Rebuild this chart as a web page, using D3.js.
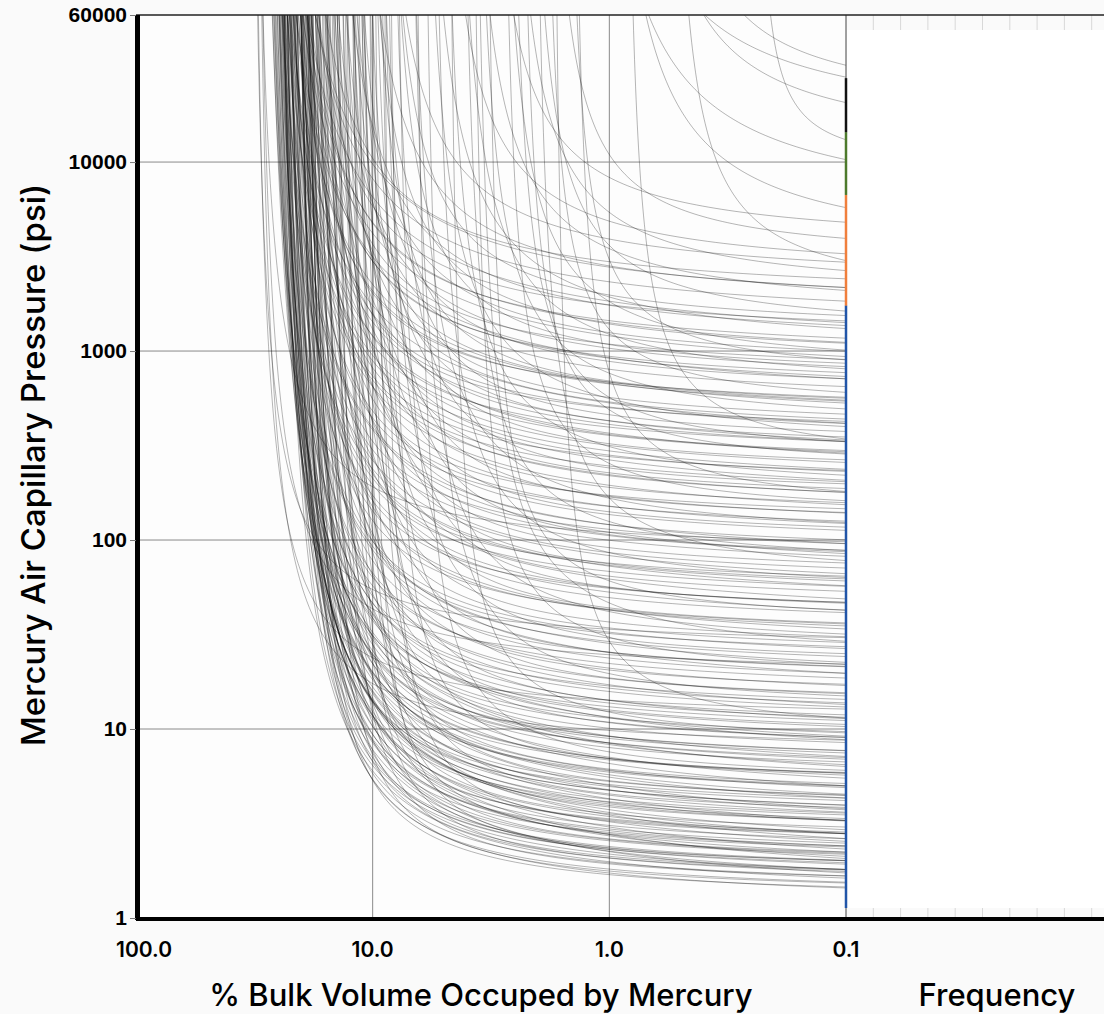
<!DOCTYPE html>
<html>
<head>
<meta charset="utf-8">
<title>Capillary pressure curves</title>
<script src="https://d3js.org/d3.v7.min.js"></script>
<style>
  body { margin: 0; background: #fafafa; }
  svg { display: block; font-family: Inter, "Liberation Sans", sans-serif; }
  .tick text { font-size: 21px; font-weight: 600; fill: #000; }
  .grid line { stroke: #8a8a8a; stroke-width: 1; }
  .curve { fill: none; stroke: #000; stroke-opacity: 0.36; stroke-width: 0.8; }
  .title { font-size: 31px; font-weight: 500; fill: #000; }
</style>
</head>
<body>
<svg width="1104" height="1014"></svg>
<script>
// Thomeer parameters of each sample: entry pressure (psi), Bv at infinite pressure (%), shape factor
var entryP = [
  1.12,1.18,1.22,1.25,1.3,1.33,1.38,1.42,1.47,1.5,
  1.55,1.6,1.64,1.7,1.75,1.8,1.86,1.9,1.97,2.05,
  2.1,2.2,2.3,2.35,2.45,2.55,2.6,2.7,2.85,2.95,
  3.05,3.2,3.3,3.45,3.6,3.75,3.9,4.1,4.3,4.5,
  4.7,4.9,5.2,5.5,5.8,6.1,6.5,6.9,7.3,7.8,
  8.2,8.8,9.4,10,10.8,11.5,12.5,13.5,14.5,16,
  17,18.5,20,22,24,26,28,31,34,37,
  40,44,48,52,57,62,68,75,82,90,
  98,108,118,130,142,155,170,185,200,220,
  240,260,285,310,340,370,400,440,480,530,
  580,640,700,780,860,950,1100,1300,1500,1800,
  1.2,1.28,1.35,1.4,1.48,1.52,1.58,1.66,1.72,1.78,
  1.85,1.93,2.0,2.15,2.25,2.4,2.5,2.65,2.75,2.9,
  3.1,3.25,3.4,3.55,3.7,4.0,4.2,4.6,5.0,5.4,
  5.9,6.3,6.8,7.5,8.0,8.6,9.2,9.8,11,12,
  13,14,15.5,17.5,19,21,23,25,27,30,
  33,36,39,43,47,51,56,61,67,73,
  80,88,95,105,115,125,138,150,165,180,
  195,215,235,255,280,305,335,365,410,450,
  500,560,620,690,760,850,1000,1200,1600,2200,
  5,8,12,18,25,35,50,70,95,130,
  170,230,300,380,480,600,750,950,1200,1500,
  1900,2400,2900,3500,700,260,140,60,22,9,
  250,9000,5000,11000,14000,3000,18000,1800
];
var bvInf = [
  24,30,27.5,22,28,32,26.5,21,29,25,
  31,23.5,27,33,20.5,28.5,25,30,22.5,29,
  26,32,21.5,28,34,24,30.5,27,20,31.5,
  25.5,29,33.5,22,27.5,31,24.5,34,26,30,
  21,32.5,28,25,34.5,23,30,27,33,20.5,
  29,24,31.5,26.5,34,22.5,28,32,25.5,30.5,
  23,33,27.5,21.5,30,34.5,25,28.5,31,24,
  32,26,29.5,22,33.5,27,30.5,24.5,34,28,
  25,31,21,29,33,26.5,30,23.5,32.5,27.5,
  30,24,33.5,27,22,31.5,28.5,25.5,34,29,
  26,32,23,30.5,27.5,33,24.5,29,31,25,
  20,17,22,15,19,13,21,16,11,18.5,
  14,22.5,12,17.5,20,9.5,15.5,21,13,18,
  23,10.5,16.5,20.5,12.5,19,14.5,22,9,17,
  21.5,13.5,18.5,11,23.5,15,20,12,17.5,22,
  10,16,19.5,13,21,8.5,18,14.5,23,11.5,
  17,20.5,9.5,15.5,22,12.5,18.5,14,21,10,
  16.5,19,13,23,11,17.5,20,14.5,9,18,
  22,12,16,20.5,13.5,10.5,18.5,15,21,11.5,
  17,14,19.5,9.5,16,12.5,18,10,14,11,
  7,5,6.5,4,7.5,3.5,6,4.5,7.8,3,
  5.5,2.5,6.8,4,2,5,3.2,7,2.4,4.5,
  3,6,2,3.8,1.6,2.8,1.5,2.2,4,1.8,
  0.9,0.25,1.5,0.9,1.4,1.2,0.7,0.6
];
var shapeG = [
  0.6,0.95,0.7,0.5,0.8,1.1,0.65,0.5,0.9,0.6,
  1.0,0.55,0.75,1.1,0.5,0.85,0.62,0.95,0.55,0.88,
  0.7,1.0,0.5,0.8,1.1,0.6,0.9,0.72,0.48,0.95,
  0.62,0.85,1.05,0.52,0.75,0.95,0.6,1.1,0.68,0.9,
  0.5,0.95,0.7,0.6,1.05,0.55,0.85,0.65,0.45,0.5,
  0.8,0.55,0.9,0.65,0.42,0.52,0.75,0.95,0.6,0.85,
  0.55,0.44,0.7,0.5,0.85,0.4,0.6,0.78,0.9,0.56,
  0.9,0.62,0.8,0.5,1.0,0.68,0.85,0.58,0.45,0.75,
  0.6,0.88,0.5,0.78,0.95,0.66,0.82,0.55,0.92,0.7,
  0.85,0.58,0.95,0.7,0.52,0.9,0.75,0.62,1.0,0.8,
  0.68,0.95,0.6,0.88,0.75,1.0,0.65,0.85,0.92,0.7,
  0.45,0.4,0.5,0.38,0.46,0.35,0.5,0.42,0.32,0.48,
  0.4,0.52,0.36,0.45,0.5,0.3,0.42,0.55,0.38,0.48,
  0.58,0.34,0.46,0.52,0.4,0.5,0.44,0.56,0.32,0.48,
  0.55,0.42,0.5,0.38,0.6,0.45,0.52,0.4,0.5,0.58,
  0.36,0.46,0.55,0.42,0.56,0.34,0.5,0.45,0.62,0.4,
  0.5,0.58,0.36,0.48,0.6,0.42,0.54,0.46,0.6,0.38,
  0.5,0.56,0.44,0.66,0.4,0.52,0.6,0.48,0.36,0.56,
  0.65,0.44,0.52,0.62,0.48,0.42,0.6,0.52,0.68,0.46,
  0.58,0.52,0.66,0.44,0.6,0.54,0.7,0.5,0.65,0.6,
  0.35,0.3,0.4,0.32,0.45,0.3,0.42,0.38,0.5,0.32,
  0.45,0.3,0.52,0.42,0.3,0.5,0.45,0.6,0.42,0.55,
  0.5,0.55,0.4,0.5,0.3,0.35,0.3,0.35,0.45,0.3,
  0.3,0.15,0.85,0.6,0.8,0.7,0.5,0.4
];

var yTicks = [1, 10, 100, 1000, 10000, 60000];
var yGrid = [10, 100, 1000, 10000];
var xTicks = [100, 10, 1, 0.1];
var xGrid = [10, 1];

// pressure bands of the frequency bar at the panel edge
var bandLow = [1.13, 1740, 6700, 14400];
var bandHigh = [1740, 6700, 14400, 27800];
var bandColor = ['#2155a8', '#f07f3c', '#4d7a2c', '#111'];

const svg = d3.select('svg');
const pLeft = 136, pRight = 846, pTop = 15, pBottom = 918;

var x = d3.scaleLog().domain([100, 0.1]).range([pLeft, pRight]);
var y = d3.scaleLog().domain([1, 60000]).range([pBottom, pTop]);
var freq = d3.scaleLinear().domain([0, 10]).range([pRight, pRight + 273]);

svg.append('rect').attr('x', pLeft).attr('y', pTop)
  .attr('width', pRight - pLeft).attr('height', pBottom - pTop).attr('fill', '#fdfdfd');

svg.append('defs').append('clipPath').attr('id', 'plot')
  .append('rect').attr('x', pLeft).attr('y', pTop)
  .attr('width', pRight - pLeft).attr('height', pBottom - pTop);

// grid
svg.append('g').attr('class', 'grid')
  .selectAll('line').data(yGrid).enter().append('line')
  .attr('x1', pLeft).attr('x2', pRight)
  .attr('y1', d => y(d)).attr('y2', d => y(d));
svg.append('g').attr('class', 'grid')
  .selectAll('line').data(xGrid).enter().append('line')
  .attr('x1', d => x(d)).attr('x2', d => x(d))
  .attr('y1', pTop).attr('y2', pBottom);

// Thomeer hyperbola of one sample, Bv = Bvinf * exp(-G / log(Pc/Pd))
function curvePoints(i) {
  var pd = entryP[i], bi = bvInf[i], g = shapeG[i];
  var uMin = g / Math.log(bi / 0.05), uMax = Math.log10(60000 / pd);
  var pts = [];
  for (var k = 0; k <= 90; k++) {
    var u = uMin * Math.pow(uMax / uMin, k / 90);
    pts.push([bi * Math.exp(-g / u), pd * Math.pow(10, u)]);
  }
  return pts;
}

var line = d3.line().x(d => x(d[0])).y(d => y(d[1]));

svg.append('g').attr('clip-path', 'url(#plot)')
  .selectAll('path').data(d3.range(entryP.length)).enter().append('path')
  .attr('class', 'curve')
  .attr('d', i => line(curvePoints(i)));

// frequency panel
svg.append('rect').attr('x', pRight + 1).attr('y', 30)
  .attr('width', 1104 - pRight).attr('height', 878).attr('fill', '#fff');
var fTicks = d3.range(1, 10);
svg.append('g').selectAll('line').data(fTicks).enter().append('line')
  .attr('x1', d => freq(d)).attr('x2', d => freq(d))
  .attr('y1', pTop).attr('y2', 30).attr('stroke', '#d8d8d8');
svg.append('g').selectAll('line').data(fTicks).enter().append('line')
  .attr('x1', d => freq(d)).attr('x2', d => freq(d))
  .attr('y1', 908).attr('y2', pBottom).attr('stroke', '#d8d8d8');

svg.append('line').attr('x1', pRight).attr('x2', pRight)
  .attr('y1', pTop).attr('y2', pBottom).attr('stroke', '#444').attr('stroke-width', 1);
svg.append('g').selectAll('line').data(bandLow).enter().append('line')
  .attr('x1', pRight).attr('x2', pRight)
  .attr('y1', d => y(d)).attr('y2', (d, i) => y(bandHigh[i]))
  .attr('stroke', (d, i) => bandColor[i]).attr('stroke-width', 2.5);

// frame
svg.append('line').attr('x1', pLeft).attr('x2', 1104).attr('y1', pTop).attr('y2', pTop)
  .attr('stroke', '#222').attr('stroke-width', 1.5);
svg.append('line').attr('x1', pLeft + 1.5).attr('x2', pLeft + 1.5).attr('y1', pTop).attr('y2', pBottom + 2)
  .attr('stroke', '#000').attr('stroke-width', 5);
svg.append('line').attr('x1', pLeft).attr('x2', 1104).attr('y1', pBottom + 1).attr('y2', pBottom + 1)
  .attr('stroke', '#000').attr('stroke-width', 4);

// axes
var yAxis = svg.append('g').attr('transform', `translate(${pLeft},0)`)
  .call(d3.axisLeft(y).tickValues(yTicks).tickFormat(d3.format('d')).tickSize(6).tickPadding(3));
yAxis.select('.domain').remove();
yAxis.selectAll('.tick line').attr('stroke', '#777');

svg.append('g').selectAll('text').data(xTicks).enter().append('text')
  .attr('x', d => x(d)).attr('y', 957)
  .attr('dx', d => d === 100 ? 8 : 0)
  .attr('text-anchor', 'middle')
  .style('font-size', '21px').style('font-weight', 600)
  .text(d => d3.format('.1f')(d));

svg.append('text').attr('class', 'title')
  .attr('transform', 'translate(45,465) rotate(-90)')
  .attr('text-anchor', 'middle')
  .style('font-size', '33px')
  .text('Mercury Air Capillary Pressure (psi)');
svg.append('text').attr('class', 'title')
  .attr('x', 481).attr('y', 1006).attr('text-anchor', 'middle')
  .text('% Bulk Volume Occuped by Mercury');
svg.append('text').attr('class', 'title')
  .attr('x', 997).attr('y', 1006).attr('text-anchor', 'middle')
  .text('Frequency');
</script>
</body>
</html>
